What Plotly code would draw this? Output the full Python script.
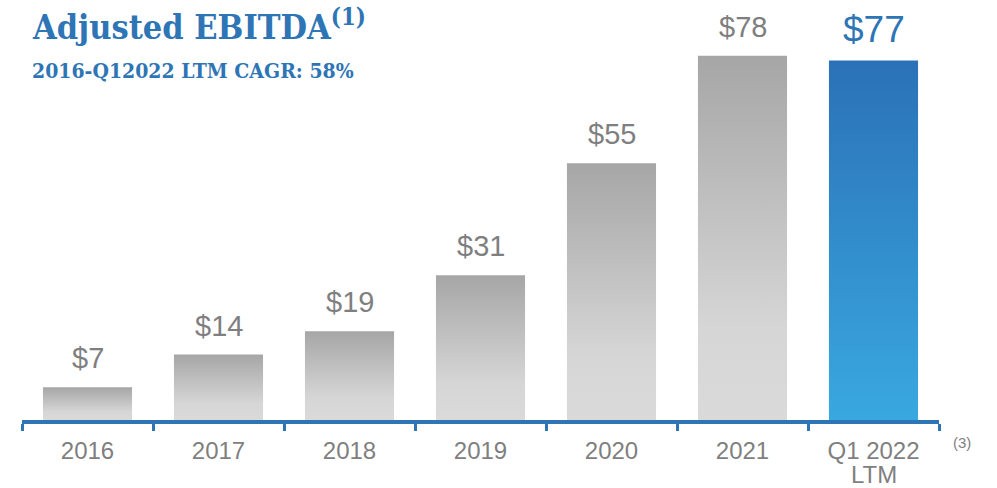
import plotly.graph_objects as go

# data
years = ["2016", "2017", "2018", "2019", "2020", "2021", "Q1 2022"]
year_sublabels = ["", "", "", "", "", "", "LTM"]
ebitda = [7, 14, 19, 31, 55, 78, 77]
value_labels = ["$7", "$14", "$19", "$31", "$55", "$78", "$77"]

BLUE = "#2e75b6"
GRAY_TXT = "#7f7f7f"
GRAY_SCALE = [[0, "#dadada"], [0.25, "#d6d6d6"], [1, "#a6a6a6"]]
BLUE_SCALE = [[0, "#39a8e0"], [1, "#2b71b8"]]
HALF_W = 0.34
SANS = "Liberation Sans, Arial"
SLAB = "DejaVu Serif Condensed, DejaVu Serif"

fig = go.Figure()

for i, v in enumerate(ebitda):
    last = i == len(ebitda) - 1
    fig.add_trace(
        go.Scatter(
            x=[i - HALF_W, i + HALF_W, i + HALF_W, i - HALF_W, i - HALF_W],
            y=[0, 0, v, v, 0],
            mode="lines",
            line={"width": 0},
            fill="toself",
            fillgradient={"type": "vertical", "colorscale": BLUE_SCALE if last else GRAY_SCALE},
            hoverinfo="skip",
            showlegend=False,
        )
    )

for i, (v, lab) in enumerate(zip(ebitda, value_labels)):
    last = i == len(ebitda) - 1
    fig.add_annotation(
        x=i, y=v, text=lab, showarrow=False, yanchor="bottom",
        yshift=8 if last else 11,
        font={"family": SANS, "size": 37 if last else 29,
              "color": BLUE if last else GRAY_TXT},
    )

for i, sub in enumerate(year_sublabels):
    if sub:
        fig.add_annotation(
            x=i, y=0, text=sub, showarrow=False, yanchor="middle", yshift=-54,
            font={"family": SANS, "size": 24, "color": GRAY_TXT},
        )

fig.add_annotation(
    xref="paper", yref="paper", x=0.009, y=1.022, xanchor="left", yanchor="top",
    text="<b>Adjusted EBITDA<sup>(1)</sup></b>", showarrow=False,
    font={"family": SLAB, "size": 34, "color": BLUE},
)
fig.add_annotation(
    xref="paper", yref="paper", x=0.009, y=0.888, xanchor="left", yanchor="top",
    text="<b>2016-Q12022 LTM CAGR: 58%</b>", showarrow=False,
    font={"family": SLAB, "size": 21, "color": BLUE},
)
fig.add_annotation(
    xref="paper", yref="paper", x=1.025, y=-0.054, xanchor="center", yanchor="middle",
    text="(3)", showarrow=False,
    font={"family": SANS, "size": 15, "color": GRAY_TXT},
)

fig.update_layout(
    width=997,
    height=488,
    margin={"l": 22, "r": 58, "t": 10, "b": 68},
    plot_bgcolor="white",
    paper_bgcolor="white",
    showlegend=False,
)
fig.update_xaxes(
    range=[-0.5, len(years) - 0.5],
    tickmode="array",
    tickvals=list(range(len(years))),
    ticktext=years,
    ticks="",
    showgrid=False,
    zeroline=False,
    showline=True,
    linecolor=BLUE,
    linewidth=4,
    ticklabelstandoff=6,
    tickfont={"family": SANS, "size": 24, "color": GRAY_TXT},
    minor={
        "tickmode": "array",
        "tickvals": [k - 0.5 for k in range(len(years) + 1)],
        "ticks": "outside",
        "ticklen": 7,
        "tickwidth": 3,
        "tickcolor": BLUE,
        "showgrid": False,
    },
)
fig.update_yaxes(range=[0, 87.8], visible=False, showgrid=False, zeroline=False)

fig.write_html(
    "out.html",
    config={"displayModeBar": False},
    post_script="document.body.style.margin='0';",
)
